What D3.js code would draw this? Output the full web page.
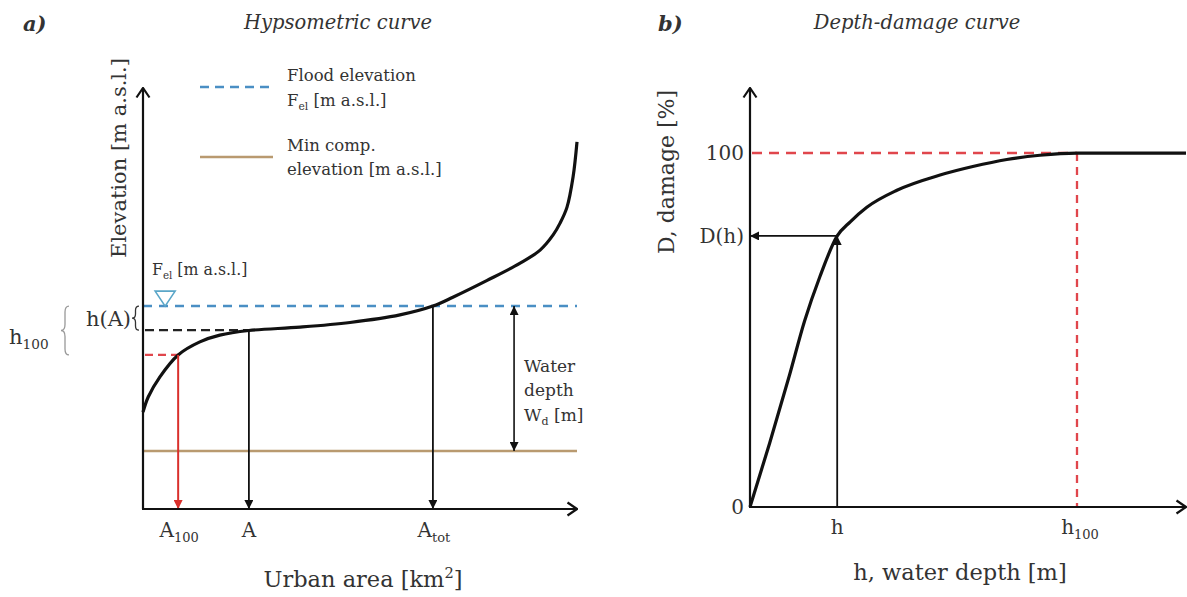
<!DOCTYPE html>
<html>
<head>
<meta charset="utf-8">
<script src="https://cdn.jsdelivr.net/npm/d3@7"></script>
<style>
  body { margin: 0; background: #fff; }
  svg { display: block; font-family: "DejaVu Serif", serif; }
  text { fill: #333; }
</style>
</head>
<body>
<svg id="fig" width="1187" height="597"></svg>
<script>
// hypsometric curve (a)
const hypsoArea = [0, 1.2, 3.9, 8.1, 13.1, 17.7, 24.4, 36.2, 47.7, 59.2, 66.8, 71.4, 79.3, 86.9, 91.5, 94.5, 96.1, 97.7, 99.1, 100]
const hypsoElev = [23.0, 26.6, 31.4, 36.6, 39.7, 41.3, 42.4, 43.2, 44.3, 46.1, 48.2, 50.3, 54.3, 58.4, 61.5, 65.1, 67.9, 71.7, 78.9, 87.2]

const floodElev = 48.2
const hAElev = 42.5
const h100Elev = 36.6
const minCompElev = 13.8

const areaTicks = [8.1, 24.4, 66.8]
const areaTickLabels = [["A", "100"], ["A", ""], ["A", "tot"]]
const waterDepthArea = 85.5

// depth-damage curve (b)
const depthVals = [0, 4.5, 9, 12.5, 16, 20, 23, 26.8, 33.7, 43.6, 51.1, 58.9, 66.5, 75, 100]
const damageVals = [0, 18, 37, 52.5, 65, 76.6, 80.6, 84.7, 89.5, 93.8, 96.2, 98.2, 99.4, 100, 100]

const depthH = 20
const depthH100 = 75
const damageAtH = 76.6
const damageTicks = [0, 76.6, 100]
const damageTickLabels = ["0", "D(h)", "100"]

const colors = {
  flood: "#4a8fc4",
  minComp: "#b99a70",
  red: "#e0464c",
  redArrow: "#d9302c",
  ink: "#111"
}

const svg = d3.select("#fig")
const defs = svg.append("defs")

function add_markers(){
  defs.append("marker")
    .attr("id", "chev")
    .attr("viewBox", "0 0 12 16")
    .attr("refX", 11).attr("refY", 8)
    .attr("markerWidth", 12).attr("markerHeight", 16)
    .attr("markerUnits", "userSpaceOnUse")
    .attr("orient", "auto")
    .append("path")
    .attr("d", "M1.5,1.5 L11,8 L1.5,14.5")
    .attr("fill", "none")
    .attr("stroke", colors.ink)
    .attr("stroke-width", 2.2)

  for (const [id, col] of [["tri", colors.ink], ["tri-red", colors.redArrow]]){
    defs.append("marker")
      .attr("id", id)
      .attr("viewBox", "0 0 10 10")
      .attr("refX", 10).attr("refY", 5)
      .attr("markerWidth", 10).attr("markerHeight", 9)
      .attr("markerUnits", "userSpaceOnUse")
      .attr("orient", "auto-start-reverse")
      .append("path")
      .attr("d", "M0,0 L10,5 L0,10 Z")
      .attr("fill", col)
  }
}

// text with sub/superscript pieces
function label(g, x, y, pieces, size, anchor){
  const t = g.append("text")
    .attr("x", x).attr("y", y)
    .attr("font-size", size)
    .attr("text-anchor", anchor || "start")
  let shift = 0
  for (const [str, kind] of pieces){
    const target = kind == "sub" ? size * 0.25 : kind == "sup" ? -size * 0.4 : 0
    t.append("tspan")
      .attr("dy", target - shift)
      .attr("font-size", kind ? size * 0.65 : size)
      .text(str)
    shift = target
  }
  return t
}

function brace(x, y1, y2, w){
  const m = (y1 + y2) / 2
  const q = Math.min(6, (m - y1) * 0.35)
  const c = x + w / 2
  return `M${x + w},${y1} Q${c},${y1} ${c},${y1 + q} L${c},${m - q} Q${c},${m} ${x},${m} ` +
         `Q${c},${m} ${c},${m + q} L${c},${y2 - q} Q${c},${y2} ${x + w},${y2}`
}

function line(g, x1, y1, x2, y2){
  return g.append("line").attr("x1", x1).attr("y1", y1).attr("x2", x2).attr("y2", y2)
}

function draw_hypsometric(){
  const g = svg.append("g")
  const x = d3.scaleLinear().domain([0, 100]).range([143, 577])
  const y = d3.scaleLinear().domain([0, 100]).range([509, 88])

  // titles
  g.append("text").attr("x", 23).attr("y", 31).attr("font-size", 21)
    .attr("font-weight", "bold").attr("font-style", "italic").text("a)")
  g.append("text").attr("x", 338).attr("y", 29).attr("font-size", 19.5)
    .attr("font-style", "italic").attr("text-anchor", "middle").text("Hypsometric curve")

  // legend
  line(g, 200, 87, 273, 87).attr("stroke", colors.flood).attr("stroke-width", 2.5).attr("stroke-dasharray", "9,6")
  label(g, 287, 81, [["Flood elevation"]], 16.5)
  label(g, 287, 106, [["F"], ["el", "sub"], [" [m a.s.l.]"]], 16.5)
  line(g, 200, 157, 273, 157).attr("stroke", colors.minComp).attr("stroke-width", 2.5)
  label(g, 287, 151, [["Min comp."]], 16.5)
  label(g, 287, 175, [["elevation [m a.s.l.]"]], 16.5)

  // reference levels
  line(g, x(0), y(floodElev), x(100), y(floodElev))
    .attr("stroke", colors.flood).attr("stroke-width", 2.5).attr("stroke-dasharray", "9,7")
  line(g, x(0), y(minCompElev), x(100), y(minCompElev))
    .attr("stroke", colors.minComp).attr("stroke-width", 2.5)
  line(g, x(0) + 2, y(hAElev), x(areaTicks[1]), y(hAElev))
    .attr("stroke", "#222").attr("stroke-width", 2.3).attr("stroke-dasharray", "9,5")
  line(g, x(0) + 2, y(h100Elev), x(areaTicks[0]), y(h100Elev))
    .attr("stroke", colors.red).attr("stroke-width", 2.3).attr("stroke-dasharray", "8,5")

  // water level symbol
  const tx = x(5.1), ty = y(floodElev)
  g.append("path")
    .attr("d", `M${tx - 10},${ty - 15} L${tx + 10},${ty - 15} L${tx},${ty} Z`)
    .attr("fill", "#fff").attr("stroke", "#5aa6c8").attr("stroke-width", 1.6)
  label(g, 152, 275, [["F"], ["el", "sub"], [" [m a.s.l.]"]], 15.8)

  // curve
  const pts = hypsoArea.map((a, i) => [a, hypsoElev[i]])
  g.append("path")
    .datum(pts)
    .attr("d", d3.line().x(d => x(d[0])).y(d => y(d[1])).curve(d3.curveCatmullRom.alpha(0.5)))
    .attr("fill", "none").attr("stroke", colors.ink).attr("stroke-width", 3.2)

  // arrows down to the area axis
  line(g, x(areaTicks[0]), y(h100Elev), x(areaTicks[0]), y(0))
    .attr("stroke", colors.redArrow).attr("stroke-width", 2).attr("marker-end", "url(#tri-red)")
  line(g, x(areaTicks[1]), y(hAElev), x(areaTicks[1]), y(0))
    .attr("stroke", colors.ink).attr("stroke-width", 1.8).attr("marker-end", "url(#tri)")
  line(g, x(areaTicks[2]), y(floodElev), x(areaTicks[2]), y(0))
    .attr("stroke", colors.ink).attr("stroke-width", 1.8).attr("marker-end", "url(#tri)")

  // water depth
  line(g, x(waterDepthArea), y(floodElev), x(waterDepthArea), y(minCompElev))
    .attr("stroke", colors.ink).attr("stroke-width", 1.6)
    .attr("marker-start", "url(#tri)").attr("marker-end", "url(#tri)")
  label(g, x(waterDepthArea) + 10, 372, [["Water"]], 17)
  label(g, x(waterDepthArea) + 10, 396, [["depth"]], 17)
  label(g, x(waterDepthArea) + 10, 421, [["W"], ["d", "sub"], [" [m]"]], 17)

  // axes
  line(g, x(0), y(0), x(0), y(100)).attr("stroke", colors.ink).attr("stroke-width", 2.2).attr("marker-end", "url(#chev)")
  line(g, x(0) - 1, y(0), x(100), y(0)).attr("stroke", colors.ink).attr("stroke-width", 2.2).attr("marker-end", "url(#chev)")

  areaTicks.forEach((a, i) => {
    const [main, sub] = areaTickLabels[i]
    label(g, x(a) + (sub ? 1 : 0), 537, sub ? [[main], [sub, "sub"]] : [[main]], 20, "middle")
  })
  label(g, 363, 587, [["Urban area [km"], ["2", "sup"], ["]"]], 22.5, "middle")

  g.append("text")
    .attr("transform", "translate(126,158) rotate(-90)")
    .attr("text-anchor", "middle").attr("font-size", 21)
    .text("Elevation [m a.s.l.]")

  // h(A) and h100 braces
  label(g, 131, 326, [["h(A)"]], 21, "end")
  g.append("path").attr("d", brace(132, y(floodElev), y(hAElev), 7))
    .attr("fill", "none").attr("stroke", "#333").attr("stroke-width", 1.3)
  label(g, 9, 344, [["h"], ["100", "sub"]], 21)
  g.append("path").attr("d", brace(61, y(floodElev), y(h100Elev), 8))
    .attr("fill", "none").attr("stroke", "#999").attr("stroke-width", 1.3)
}

function draw_depth_damage(){
  const g = svg.append("g")
  const x = d3.scaleLinear().domain([0, 100]).range([750, 1186])
  const y = d3.scaleLinear().domain([0, 118.4]).range([507, 88])

  g.append("text").attr("x", 658).attr("y", 31).attr("font-size", 21)
    .attr("font-weight", "bold").attr("font-style", "italic").text("b)")
  g.append("text").attr("x", 917).attr("y", 29).attr("font-size", 19.5)
    .attr("font-style", "italic").attr("text-anchor", "middle").text("Depth-damage curve")

  // h100 guides
  line(g, x(0) + 2, y(100), x(depthH100), y(100))
    .attr("stroke", colors.red).attr("stroke-width", 2.5).attr("stroke-dasharray", "10,7")
  line(g, x(depthH100), y(100), x(depthH100), y(0))
    .attr("stroke", colors.red).attr("stroke-width", 2.3).attr("stroke-dasharray", "8,6")

  const pts = depthVals.map((d, i) => [d, damageVals[i]])
  g.append("path")
    .datum(pts)
    .attr("d", d3.line().x(d => x(d[0])).y(d => y(d[1])).curve(d3.curveMonotoneX))
    .attr("fill", "none").attr("stroke", colors.ink).attr("stroke-width", 3.2)

  // h -> D(h)
  line(g, x(depthH), y(0), x(depthH), y(damageAtH))
    .attr("stroke", colors.ink).attr("stroke-width", 1.8).attr("marker-end", "url(#tri)")
  line(g, x(depthH), y(damageAtH), x(0), y(damageAtH))
    .attr("stroke", colors.ink).attr("stroke-width", 1.8).attr("marker-end", "url(#tri)")

  // axes
  line(g, x(0), y(0), x(0), y(118.4)).attr("stroke", colors.ink).attr("stroke-width", 2.2).attr("marker-end", "url(#chev)")
  line(g, x(0) - 1, y(0), x(100), y(0)).attr("stroke", colors.ink).attr("stroke-width", 2.2).attr("marker-end", "url(#chev)")

  damageTicks.forEach((d, i) => {
    label(g, 744, y(d) + 7, [[damageTickLabels[i]]], 20, "end")
  })
  label(g, x(depthH), 534, [["h"]], 20, "middle")
  label(g, x(depthH100) + 3, 534, [["h"], ["100", "sub"]], 20, "middle")
  label(g, 960, 580, [["h, water depth [m]"]], 22.5, "middle")

  g.append("text")
    .attr("transform", "translate(674,172) rotate(-90)")
    .attr("text-anchor", "middle").attr("font-size", 22)
    .text("D, damage [%]")
}

add_markers()
draw_hypsometric()
draw_depth_damage()
</script>
</body>
</html>
